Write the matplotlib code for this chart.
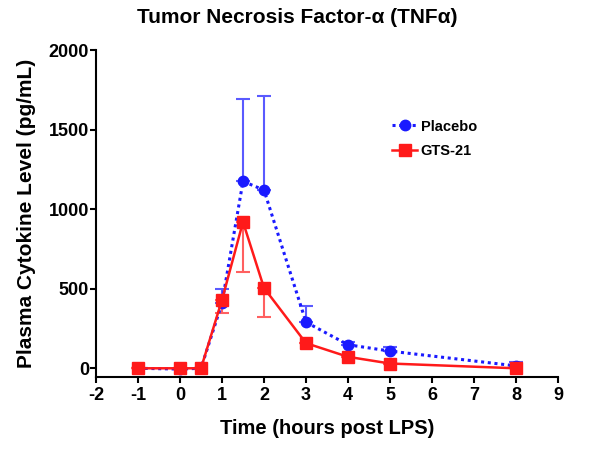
import matplotlib
matplotlib.use("Agg")
import matplotlib.pyplot as plt
import numpy as np

plt.rcParams['font.family'] = ['Liberation Sans', 'DejaVu Sans']

time = [-1, 0, 0.5, 1, 1.5, 2, 3, 4, 5, 8]
placebo = [0, -5, 0, 410, 1175, 1120, 290, 148, 108, 15]
placebo_err_up = [0, 0, 0, 90, 520, 590, 100, 20, 25, 25]
gts21 = [0, 0, 0, 430, 920, 505, 158, 72, 30, 0]
gts21_err_down = [0, 0, 0, 80, 315, 180, 0, 0, 0, 0]

xticks = list(range(-2, 10))
yticks = [0, 500, 1000, 1500, 2000]

fig = plt.figure(figsize=(6.0, 4.51), dpi=100)
ax = fig.add_axes([0.16, 0.164, 0.77, 0.725])

blue = '#1a1aff'
red = '#ff1a1a'

ax.errorbar(time, placebo, yerr=[np.zeros(len(time)), placebo_err_up], fmt='none',
            ecolor='#5a5aff', elinewidth=1.5, capsize=5, capthick=1.5, zorder=2)
ax.errorbar(time, gts21, yerr=[gts21_err_down, np.zeros(len(time))], fmt='none',
            ecolor='#ff6060', elinewidth=1.5, capsize=5, capthick=1.5, zorder=2)
ax.plot(time, placebo, linestyle=(0, (1, 1.2)), color=blue, linewidth=2.2,
        marker='o', markersize=7.5, label='Placebo', zorder=3)
ax.plot(time, gts21, linestyle='-', color=red, linewidth=1.8,
        marker='s', markersize=8.5, label='GTS-21', zorder=4)

ax.set_xlim(-2, 9)
ax.set_ylim(-55, 2000)
ax.set_xticks(xticks)
ax.set_yticks(yticks)
ax.set_xticklabels([str(t) for t in xticks], fontweight='bold', fontsize=13)
ax.set_yticklabels([str(t) for t in yticks], fontweight='bold', fontsize=13)
ax.spines['top'].set_visible(False)
ax.spines['right'].set_visible(False)
for s in ['left', 'bottom']:
    ax.spines[s].set_linewidth(1.5)
ax.tick_params(axis='x', direction='out', length=4, width=1.5, pad=3)
ax.tick_params(axis='y', direction='out', length=4, width=1.5, pad=1)

ax.set_xlabel('Time (hours post LPS)', fontweight='bold', fontsize=14.5, labelpad=11)
ax.set_ylabel('Plasma Cytokine Level (pg/mL)', fontweight='bold', fontsize=15, labelpad=9)
fig.text(0.495, 0.962, 'Tumor Necrosis Factor-\u03b1 (TNF\u03b1)', ha='center', va='center',
         fontweight='bold', fontsize=15)

leg = ax.legend(loc='center left', bbox_to_anchor=(0.641, 0.728), frameon=False,
                prop={'weight': 'bold', 'size': 10.5}, handlelength=1.7, handletextpad=0.25,
                labelspacing=0.75, borderaxespad=0, borderpad=0)

fig.savefig('out.png', dpi=100)
